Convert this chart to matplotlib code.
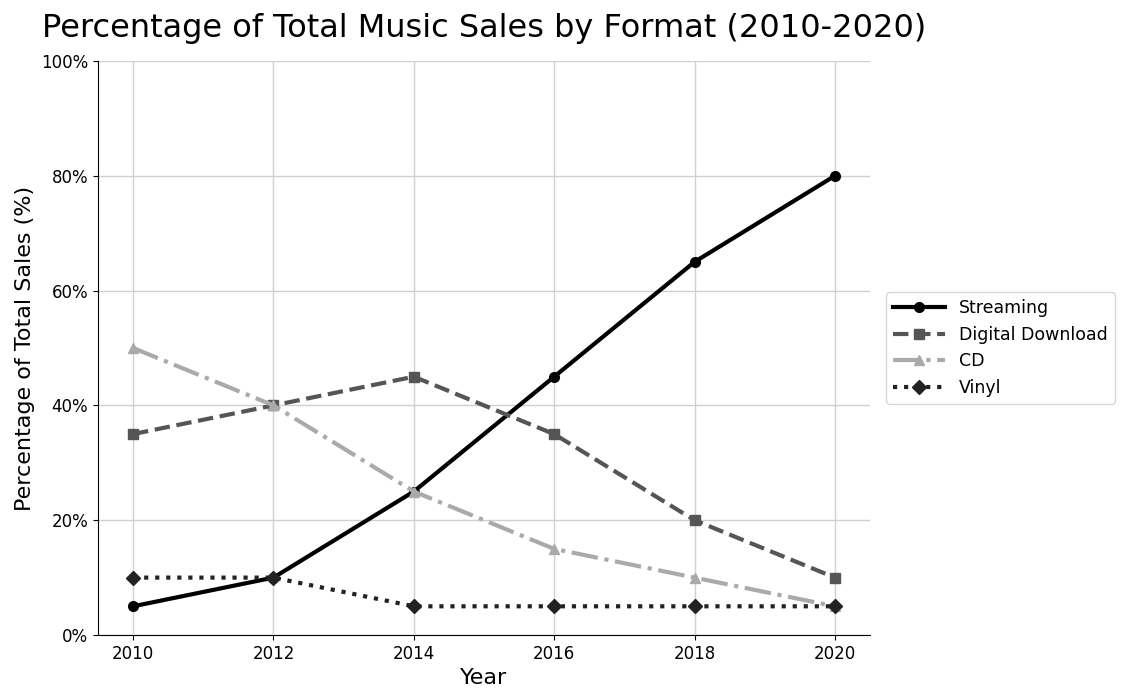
#!/usr/bin/env python
import matplotlib
matplotlib.use('Agg')
import matplotlib.pyplot as plt
from matplotlib.ticker import PercentFormatter

years = [2010, 2012, 2014, 2016, 2018, 2020]
streaming = [5, 10, 25, 45, 65, 80]
digital_download = [35, 40, 45, 35, 20, 10]
cd = [50, 40, 25, 15, 10, 5]
vinyl = [10, 10, 5, 5, 5, 5]

series = [
    ('Streaming', streaming, '#000000', '-', 'o'),
    ('Digital Download', digital_download, '#555555', '--', 's'),
    ('CD', cd, '#aaaaaa', '-.', '^'),
    ('Vinyl', vinyl, '#222222', ':', 'D'),
]


def main():
    fig = plt.figure(figsize=(11.24, 7.0), dpi=100)
    ax = fig.add_axes([98 / 1124, 65 / 700, 772 / 1124, 574 / 700])
    for name, vals, color, ls, marker in series:
        ax.plot(years, vals, label=name, color=color, linestyle=ls,
                marker=marker, linewidth=3, markersize=7)

    ax.set_xlim(2009.5, 2020.5)
    ax.set_ylim(0, 100)
    ax.set_xticks(years)
    ax.set_yticks(range(0, 101, 20))
    ax.yaxis.set_major_formatter(PercentFormatter(decimals=0))
    ax.tick_params(labelsize=12)
    ax.grid(True, color='#d0d0d0', linewidth=1)
    ax.set_axisbelow(True)
    ax.spines['top'].set_visible(False)
    ax.spines['right'].set_visible(False)

    ax.set_xlabel('Year', fontsize=16)
    ax.set_ylabel('Percentage of Total Sales (%)', fontsize=16)
    ax.set_title('Percentage of Total Music Sales by Format (2010-2020)',
                 fontsize=23, pad=17)
    ax.legend(loc='center left', bbox_to_anchor=(1.01, 0.5), fontsize=12.5,
              handlelength=3)

    fig.savefig('out.png', dpi=100)
    return 0


if __name__ == "__main__":
    main()
